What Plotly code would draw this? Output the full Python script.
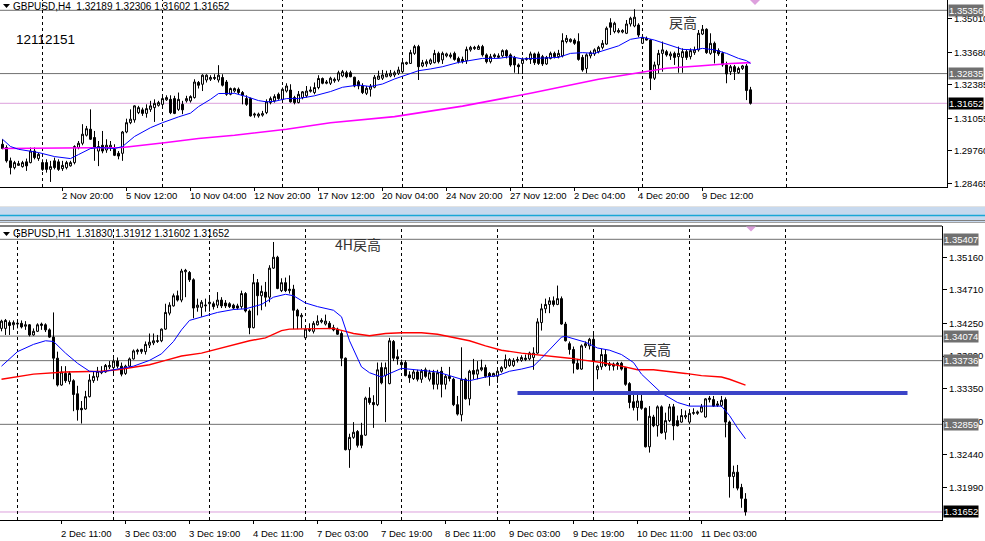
import plotly.graph_objects as go

W, H = 985, 541
def px(x): return x / W
def py(y): return 1 - y / H

# ---------------- GBPUSD H4 (top) ----------------
top_first_bar = -10
top_open = [1.3002,1.2989,1.2936,1.2909,1.2918,1.2913,1.2932,1.2929,1.2975,1.2945,
1.2929,1.2929,1.2902,1.2936,1.2932,1.2905,1.2909,1.2916,1.2929,1.2989,
1.3006,1.3038,1.3062,1.3029,1.2975,1.2998,1.2979,1.2989,1.2982,1.2966,
1.2966,1.3051,1.3088,1.3099,1.3128,1.3139,1.3125,1.3141,1.3148,1.3157,
1.3161,1.3179,1.3181,1.3184,1.3141,1.3161,1.3175,1.3175,1.3188,1.3248,
1.3241,1.3258,1.3261,1.3264,1.3258,1.3268,1.3250,1.3201,1.3214,1.3221,
1.3208,1.3184,1.3184,1.3118,1.3115,1.3118,1.3128,1.3168,1.3175,1.3201,
1.3181,1.3214,1.3218,1.3188,1.3168,1.3188,1.3195,1.3213,1.3208,1.3228,
1.3264,1.3245,1.3245,1.3255,1.3258,1.3274,1.3287,1.3287,1.3269,1.3251,
1.3234,1.3205,1.3221,1.3229,1.3261,1.3265,1.3271,1.3274,1.3278,1.3285,
1.3291,1.3322,1.3324,1.3364,1.3391,1.3314,1.3322,1.3324,1.3327,1.3364,
1.3338,1.3354,1.3351,1.3364,1.3344,1.3340,1.3335,1.3378,1.3383,1.3380,
1.3391,1.3358,1.3331,1.3351,1.3348,1.3354,1.3375,1.3358,1.3348,1.3318,
1.3324,1.3340,1.3340,1.3362,1.3362,1.3351,1.3322,1.3344,1.3364,1.3351,
1.3354,1.3411,1.3411,1.3417,1.3411,1.3348,1.3304,1.3354,1.3362,1.3371,
1.3388,1.3401,1.3486,1.3451,1.3449,1.3449,1.3444,1.3481,1.3473,1.3477,
1.3404,1.3424,1.3417,1.3265,1.3318,1.3364,1.3371,1.3354,1.3364,1.3351,
1.3348,1.3371,1.3351,1.3367,1.3378,1.3441,1.3460,1.3364,1.3404,1.3375,
1.3364,1.3318,1.3291,1.3311,1.3287,1.3304,1.3314,1.32189]
top_high = [1.3022,1.2998,1.2949,1.2936,1.2936,1.2936,1.2945,1.2989,1.2989,1.2968,
1.2942,1.2942,1.2936,1.2949,1.2942,1.2936,1.2936,1.2936,1.2998,1.3015,
1.3082,1.3075,1.3141,1.3055,1.3015,1.3055,1.3022,1.3015,1.3002,1.2975,
1.3055,1.3104,1.3141,1.3157,1.3155,1.3148,1.3161,1.3175,1.3181,1.3175,
1.3197,1.3197,1.3197,1.3195,1.3208,1.3175,1.3195,1.3197,1.3261,1.3254,
1.3281,1.3281,1.3277,1.3281,1.3317,1.3281,1.3258,1.3228,1.3228,1.3228,
1.3214,1.3197,1.3188,1.3128,1.3128,1.3135,1.3181,1.3192,1.3201,1.3208,
1.3228,1.3245,1.3241,1.3195,1.3214,1.3214,1.3234,1.3232,1.3248,1.3277,
1.3268,1.3258,1.3271,1.3268,1.3295,1.3298,1.3295,1.3295,1.3271,1.3258,
1.3245,1.3234,1.3242,1.3278,1.3295,1.3298,1.3295,1.3298,1.3295,1.3311,
1.3335,1.3331,1.3378,1.3398,1.3398,1.3338,1.3340,1.3344,1.3378,1.3371,
1.3371,1.3367,1.3367,1.3371,1.3351,1.3351,1.3391,1.3394,1.3394,1.3398,
1.3398,1.3364,1.3362,1.3364,1.3364,1.3380,1.3380,1.3364,1.3354,1.3324,
1.3348,1.3348,1.3371,1.3367,1.3371,1.3358,1.3354,1.3371,1.3371,1.3378,
1.3444,1.3437,1.3424,1.3424,1.3444,1.3358,1.3364,1.3375,1.3384,1.3394,
1.3417,1.3471,1.3504,1.3490,1.3464,1.3460,1.3497,1.3510,1.3540,1.3484,
1.3433,1.3431,1.3420,1.3331,1.3378,1.3411,1.3378,1.3371,1.3371,1.3391,
1.3384,1.3378,1.3384,1.3391,1.3457,1.3477,1.3464,1.3444,1.3411,1.3384,
1.3371,1.3331,1.3318,1.3318,1.3311,1.3318,1.3322,1.32306]
top_low = [1.2982,1.2929,1.2882,1.2902,1.2916,1.2909,1.2896,1.2926,1.2942,1.2936,
1.2896,1.2889,1.2852,1.2902,1.2896,1.2896,1.2902,1.2913,1.2922,1.2982,
1.2998,1.3033,1.3019,1.2936,1.2915,1.2966,1.2968,1.2975,1.2955,1.2942,
1.2936,1.3046,1.3082,1.3088,1.3122,1.3115,1.3108,1.3131,1.3091,1.3152,
1.3152,1.3175,1.3122,1.3122,1.3135,1.3122,1.3168,1.3168,1.3184,1.3224,
1.3214,1.3248,1.3254,1.3258,1.3248,1.3232,1.3195,1.3197,1.3208,1.3201,
1.3161,1.3155,1.3112,1.3108,1.3108,1.3112,1.3122,1.3161,1.3168,1.3179,
1.3179,1.3208,1.3168,1.3161,1.3165,1.3181,1.3188,1.3208,1.3201,1.3221,
1.3241,1.3241,1.3238,1.3247,1.3251,1.3269,1.3265,1.3269,1.3229,1.3221,
1.3202,1.3198,1.3192,1.3225,1.3258,1.3258,1.3269,1.3269,1.3269,1.3278,
1.3285,1.3318,1.3322,1.3358,1.3258,1.3309,1.3311,1.3318,1.3324,1.3324,
1.3322,1.3348,1.3344,1.3335,1.3324,1.3324,1.3322,1.3371,1.3378,1.3378,
1.3351,1.3324,1.3324,1.3344,1.3344,1.3348,1.3344,1.3311,1.3287,1.3282,
1.3282,1.3335,1.3322,1.3318,1.3318,1.3314,1.3318,1.3340,1.3344,1.3344,
1.3348,1.3404,1.3407,1.3398,1.3335,1.3291,1.3285,1.3344,1.3354,1.3364,
1.3380,1.3398,1.3437,1.3444,1.3444,1.3444,1.3441,1.3471,1.3468,1.3428,
1.3401,1.3415,1.3218,1.3258,1.3285,1.3291,1.3351,1.3338,1.3318,1.3287,
1.3287,1.3338,1.3340,1.3358,1.3371,1.3437,1.3362,1.3358,1.3324,1.3354,
1.3311,1.3245,1.3278,1.3258,1.3282,1.3298,1.3178,1.31602]
top_close = [1.2985,1.2936,1.2909,1.2929,1.2925,1.2929,1.2916,1.2975,1.2949,1.2962,
1.2902,1.2902,1.2913,1.2909,1.2902,1.2918,1.2929,1.2929,1.2993,1.3006,
1.3042,1.3064,1.3022,1.2989,1.2993,1.2975,1.2998,1.2998,1.2958,1.2955,
1.3051,1.3088,1.3102,1.3155,1.3148,1.3125,1.3144,1.3155,1.3165,1.3168,
1.3184,1.3188,1.3128,1.3125,1.3181,1.3139,1.3184,1.3192,1.3250,1.3237,
1.3277,1.3277,1.3268,1.3268,1.3277,1.3237,1.3201,1.3224,1.3224,1.3208,
1.3197,1.3161,1.3115,1.3122,1.3122,1.3124,1.3171,1.3184,1.3192,1.3184,
1.3221,1.3234,1.3171,1.3168,1.3201,1.3211,1.3214,1.3218,1.3228,1.3264,
1.3245,1.3250,1.3265,1.3261,1.3287,1.3291,1.3271,1.3271,1.3234,1.3234,
1.3208,1.3225,1.3234,1.3269,1.3274,1.3278,1.3282,1.3285,1.3287,1.3298,
1.3327,1.3327,1.3367,1.3391,1.3311,1.3327,1.3331,1.3338,1.3364,1.3331,
1.3364,1.3362,1.3358,1.3340,1.3331,1.3331,1.3380,1.3388,1.3388,1.3391,
1.3358,1.3331,1.3351,1.3358,1.3354,1.3375,1.3354,1.3318,1.3318,1.3311,
1.3340,1.3344,1.3362,1.3327,1.3324,1.3322,1.3348,1.3364,1.3351,1.3364,
1.3415,1.3424,1.3420,1.3404,1.3340,1.3298,1.3358,1.3367,1.3378,1.3388,
1.3404,1.3464,1.3468,1.3484,1.3455,1.3455,1.3481,1.3504,1.3508,1.3437,
1.3428,1.3417,1.3265,1.3318,1.3364,1.3378,1.3358,1.3362,1.3348,1.3364,
1.3371,1.3348,1.3375,1.3378,1.3444,1.3460,1.3367,1.3404,1.3367,1.3362,
1.3318,1.3282,1.3311,1.3291,1.3304,1.3314,1.3216,1.31652]

top_ma_fast_bar = [-10,-8,-6,-1,3,7,9,12,14,18,20,23,27,30,34,37,39,42,44,48,51,54,56,58,61,64,68,72,75,79,82,85,88,92,94,97,100,104,108,110,114,117,120,124,127,129,132,135,138,141,144,147,150,153,156,160,163,165,168,171,174,176,177]
top_ma_fast = [1.3022,1.2993,1.2982,1.2969,1.2953,1.2945,1.2961,1.2985,1.2989,1.2985,1.2993,1.3033,1.3068,1.3088,1.3111,1.3126,1.3152,1.3181,1.3204,1.3205,1.3192,1.3176,1.3171,1.3173,1.3184,1.3184,1.3195,1.3212,1.3229,1.3238,1.3232,1.3242,1.3262,1.3282,1.3295,1.3302,1.3311,1.3328,1.3340,1.3344,1.3344,1.3351,1.3342,1.3344,1.3344,1.3348,1.3364,1.3367,1.3364,1.3380,1.3394,1.3420,1.3428,1.3417,1.3402,1.3380,1.3378,1.3384,1.3378,1.3364,1.3344,1.3335,1.3324]
top_ma_slow_bar = [-10,20,31,39,48,56,61,72,88,105,122,139,147,152,156,164,172,177]
top_ma_slow = [1.2985,1.2989,1.3009,1.3025,1.3038,1.3051,1.3062,1.3088,1.3112,1.3154,1.3205,1.3261,1.3282,1.3293,1.3305,1.3314,1.3324,1.3327]

top_levels_gray = [1.35356, 1.32835]
top_level_pink = 1.31652
top_price_ticks = [1.35010, 1.33680, 1.32385, 1.31055, 1.29760, 1.28465]
top_week_bars = [0, 30, 60, 90, 120, 150, 186]
top_time_bars = [-11.25, 5, 21, 37, 53, 69, 85, 101, 117, 133, 149, 165]
top_time_labels = ["29 Oct 2020", "2 Nov 20:00", "5 Nov 12:00", "10 Nov 04:00", "12 Nov 20:00",
                   "17 Nov 12:00", "20 Nov 04:00", "24 Nov 20:00", "27 Nov 12:00", "2 Dec 04:00",
                   "4 Dec 20:00", "9 Dec 12:00"]

# ---------------- GBPUSD H1 (bottom) ----------------
bot_first_bar = -4
bot_open = [1.3418,1.3418,1.3426,1.3423,
1.3424,1.3425,1.3421,1.3423,1.3409,1.3414,1.3422,1.3423,1.3416,1.3406,
1.3377,1.3340,1.3356,1.3345,1.3346,1.3328,1.3308,1.3307,1.3324,1.3346,
1.3351,1.3357,1.3358,1.3365,1.3364,1.3373,1.3366,1.3356,1.3366,1.3376,
1.3386,1.3386,1.3386,1.3395,1.3398,1.3400,1.3401,1.3417,1.3439,1.3449,
1.3463,1.3457,1.3496,1.3495,1.3485,1.3447,1.3447,1.3449,1.3452,1.3452,
1.3450,1.3457,1.3453,1.3452,1.3450,1.3449,1.3448,1.3466,1.3442,1.3419,
1.3481,1.3463,1.3468,1.3461,1.3501,1.3516,1.3470,1.3481,1.3470,1.3472,
1.3443,1.3434,1.3405,1.3415,1.3414,1.3423,1.3427,1.3424,1.3425,1.3419,
1.3417,1.3411,1.3377,1.3251,1.3268,1.3276,1.3271,1.3271,1.3322,1.3316,
1.3313,1.3364,1.3353,1.3342,1.3400,1.3379,1.3371,1.3371,1.3354,1.3349,
1.3358,1.3348,1.3361,1.3348,1.3357,1.3341,1.3359,1.3341,1.3352,1.3348,
1.3313,1.3299,1.3348,1.3321,1.3360,1.3355,1.3361,1.3364,1.3356,1.3352,
1.3352,1.3359,1.3364,1.3367,1.3367,1.3374,1.3374,1.3375,1.3376,1.3378,
1.3384,1.3426,1.3445,1.3451,1.3456,1.3451,1.3459,1.3424,1.3397,1.3389,
1.3370,1.3362,1.3394,1.3394,1.3403,1.3361,1.3365,1.3382,1.3367,1.3369,
1.3368,1.3370,1.3364,1.3342,1.3317,1.3309,1.3318,1.3308,1.3255,1.3296,
1.3284,1.3310,1.3275,1.3291,1.3310,1.3291,1.3289,1.3296,1.3289,1.3301,
1.3301,1.3303,1.3296,1.3320,1.3320,1.3312,1.3312,1.3320,1.3289,1.3214,
1.3220,1.3199,1.31830]
bot_high = [1.3430,1.3431,1.3429,1.3429,
1.3428,1.3429,1.3428,1.3424,1.3418,1.3425,1.3426,1.3425,1.3418,1.3440,
1.3386,1.3366,1.3366,1.3359,1.3348,1.3339,1.3318,1.3332,1.3355,1.3359,
1.3365,1.3366,1.3369,1.3373,1.3377,1.3378,1.3371,1.3368,1.3378,1.3389,
1.3390,1.3390,1.3400,1.3411,1.3411,1.3409,1.3418,1.3452,1.3454,1.3466,
1.3470,1.3500,1.3500,1.3497,1.3487,1.3459,1.3457,1.3459,1.3460,1.3455,
1.3468,1.3461,1.3457,1.3454,1.3452,1.3452,1.3470,1.3468,1.3444,1.3493,
1.3486,1.3477,1.3482,1.3505,1.3537,1.3518,1.3487,1.3488,1.3491,1.3478,
1.3445,1.3439,1.3418,1.3425,1.3428,1.3436,1.3432,1.3437,1.3428,1.3423,
1.3419,1.3414,1.3378,1.3273,1.3289,1.3278,1.3288,1.3324,1.3337,1.3326,
1.3371,1.3371,1.3371,1.3405,1.3402,1.3389,1.3375,1.3374,1.3359,1.3361,
1.3361,1.3362,1.3364,1.3361,1.3361,1.3361,1.3365,1.3355,1.3365,1.3350,
1.3325,1.3392,1.3350,1.3361,1.3376,1.3373,1.3375,1.3368,1.3358,1.3357,
1.3361,1.3366,1.3382,1.3377,1.3377,1.3379,1.3381,1.3382,1.3386,1.3392,
1.3432,1.3452,1.3459,1.3461,1.3462,1.3477,1.3462,1.3427,1.3400,1.3393,
1.3376,1.3396,1.3400,1.3405,1.3411,1.3368,1.3390,1.3389,1.3372,1.3371,
1.3372,1.3372,1.3365,1.3344,1.3332,1.3328,1.3328,1.3309,1.3311,1.3299,
1.3312,1.3312,1.3302,1.3314,1.3314,1.3298,1.3307,1.3305,1.3303,1.3308,
1.3305,1.3314,1.3322,1.3325,1.3325,1.3318,1.3325,1.3323,1.3291,1.3229,
1.3230,1.3204,1.31912]
bot_low = [1.3414,1.3409,1.3409,1.3416,
1.3418,1.3418,1.3416,1.3407,1.3408,1.3413,1.3416,1.3413,1.3405,1.3348,
1.3338,1.3339,1.3343,1.3341,1.3304,1.3291,1.3287,1.3306,1.3323,1.3343,
1.3346,1.3355,1.3357,1.3362,1.3355,1.3363,1.3352,1.3354,1.3364,1.3375,
1.3382,1.3383,1.3382,1.3391,1.3395,1.3398,1.3399,1.3416,1.3436,1.3448,
1.3455,1.3454,1.3461,1.3482,1.3432,1.3441,1.3434,1.3441,1.3441,1.3444,
1.3446,1.3446,1.3446,1.3446,1.3444,1.3444,1.3445,1.3440,1.3410,1.3418,
1.3436,1.3443,1.3448,1.3454,1.3500,1.3472,1.3468,1.3468,1.3466,1.3417,
1.3417,1.3418,1.3404,1.3413,1.3411,1.3422,1.3425,1.3422,1.3417,1.3414,
1.3409,1.3366,1.3250,1.3226,1.3266,1.3254,1.3253,1.3270,1.3313,1.3281,
1.3311,1.3341,1.3289,1.3341,1.3373,1.3368,1.3361,1.3352,1.3343,1.3347,
1.3345,1.3343,1.3350,1.3345,1.3334,1.3334,1.3323,1.3334,1.3345,1.3311,
1.3298,1.3290,1.3320,1.3312,1.3348,1.3348,1.3359,1.3350,1.3339,1.3351,
1.3343,1.3357,1.3362,1.3365,1.3365,1.3371,1.3372,1.3373,1.3374,1.3361,
1.3383,1.3415,1.3439,1.3439,1.3448,1.3450,1.3423,1.3400,1.3382,1.3356,
1.3361,1.3361,1.3391,1.3389,1.3332,1.3348,1.3361,1.3365,1.3360,1.3360,
1.3361,1.3360,1.3339,1.3308,1.3305,1.3291,1.3306,1.3254,1.3247,1.3282,
1.3269,1.3273,1.3265,1.3289,1.3264,1.3283,1.3288,1.3293,1.3287,1.3299,
1.3299,1.3302,1.3295,1.3316,1.3310,1.3310,1.3310,1.3268,1.3185,1.3198,
1.3195,1.3171,1.31602]
bot_close = [1.3428,1.3429,1.3422,1.3426,
1.3425,1.3420,1.3423,1.3409,1.3414,1.3423,1.3424,1.3416,1.3406,1.3377,
1.3340,1.3358,1.3346,1.3356,1.3327,1.3306,1.3306,1.3324,1.3347,1.3352,
1.3359,1.3359,1.3367,1.3367,1.3373,1.3366,1.3355,1.3366,1.3376,1.3387,
1.3388,1.3389,1.3396,1.3399,1.3401,1.3401,1.3417,1.3440,1.3450,1.3463,
1.3457,1.3497,1.3498,1.3485,1.3446,1.3450,1.3454,1.3450,1.3454,1.3448,
1.3457,1.3449,1.3449,1.3448,1.3446,1.3446,1.3466,1.3442,1.3419,1.3481,
1.3463,1.3469,1.3461,1.3501,1.3516,1.3473,1.3481,1.3470,1.3472,1.3443,
1.3435,1.3436,1.3417,1.3417,1.3425,1.3428,1.3429,1.3428,1.3419,1.3416,
1.3410,1.3377,1.3251,1.3268,1.3275,1.3257,1.3257,1.3322,1.3316,1.3313,
1.3361,1.3343,1.3364,1.3401,1.3377,1.3376,1.3368,1.3353,1.3350,1.3358,
1.3348,1.3359,1.3352,1.3357,1.3341,1.3357,1.3341,1.3352,1.3349,1.3313,
1.3300,1.3348,1.3321,1.3359,1.3355,1.3361,1.3364,1.3352,1.3352,1.3356,
1.3359,1.3364,1.3375,1.3375,1.3374,1.3375,1.3378,1.3377,1.3384,1.3384,
1.3427,1.3445,1.3451,1.3456,1.3451,1.3459,1.3424,1.3401,1.3389,1.3370,
1.3362,1.3394,1.3397,1.3403,1.3373,1.3366,1.3382,1.3367,1.3369,1.3366,
1.3370,1.3362,1.3341,1.3316,1.3309,1.3318,1.3308,1.3255,1.3297,1.3284,
1.3310,1.3274,1.3291,1.3310,1.3284,1.3284,1.3298,1.3298,1.3301,1.3302,
1.3303,1.3310,1.3321,1.3322,1.3311,1.3314,1.3319,1.3289,1.3214,1.3220,
1.3198,1.3184,1.31652]

bot_ma_fast_bar = [-4,0,4,7,9,12,15,18,21,25,29,33,36,39,41,43,46,50,54,57,61,64,67,69,72,75,79,81,83,86,88,91,96,101,105,108,111,113,117,120,123,126,129,131,133,136,137,140,142,145,148,151,154,156,159,161,165,168,172,176,178,180,182]
bot_ma_fast = [1.3366,1.3386,1.3396,1.3401,1.3400,1.3384,1.3370,1.3359,1.3358,1.3362,1.3366,1.3374,1.3383,1.3400,1.3416,1.3429,1.3434,1.3440,1.3444,1.3445,1.3451,1.3461,1.3465,1.3463,1.3453,1.3448,1.3443,1.3434,1.3401,1.3365,1.3357,1.3351,1.3363,1.3360,1.3358,1.3353,1.3348,1.3346,1.3351,1.3353,1.3359,1.3362,1.3366,1.3377,1.3389,1.3406,1.3407,1.3402,1.3399,1.3391,1.3388,1.3382,1.3371,1.3355,1.3340,1.3329,1.3316,1.3311,1.3311,1.3311,1.3298,1.3281,1.3266]
bot_ma_slow_bar = [-4,4,12,21,25,29,33,37,41,46,50,54,58,62,66,68,75,79,82,84,88,92,96,101,105,109,113,117,121,126,130,134,138,142,146,151,155,159,163,167,171,176,178,182]
bot_ma_slow = [1.3348,1.3355,1.3358,1.3359,1.3361,1.3364,1.3368,1.3374,1.3380,1.3384,1.3390,1.3395,1.3401,1.3405,1.3415,1.3417,1.3417,1.3418,1.3414,1.3411,1.3408,1.3411,1.3412,1.3412,1.3410,1.3406,1.3401,1.3394,1.3388,1.3384,1.3382,1.3380,1.3377,1.3374,1.3371,1.3366,1.3361,1.3361,1.3359,1.3356,1.3353,1.3351,1.3348,1.3340]

bot_levels_gray = [1.35407, 1.34074, 1.33736, 1.32859]
bot_level_pink = 1.31652
bot_blue_level = 1.3329
bot_blue_level_bars = [125, 222.5]
bot_price_ticks = [1.35160, 1.34710, 1.34250, 1.33800, 1.33350, 1.32900, 1.32440, 1.31990, 1.31530]
bot_day_bars = [0, 24, 48, 72, 96, 120, 144, 168, 192]
bot_time_bars = [-5.5, 11, 27, 43, 59, 75, 91, 107, 123, 139, 155, 171]
bot_time_labels = ["1 Dec 2020", "2 Dec 11:00", "3 Dec 03:00", "3 Dec 19:00", "4 Dec 11:00",
                   "7 Dec 03:00", "7 Dec 19:00", "8 Dec 11:00", "9 Dec 03:00", "9 Dec 19:00",
                   "10 Dec 11:00", "11 Dec 03:00"]

for a in (top_open, top_high, top_low):
    assert len(a) == len(top_close), (len(a), len(top_close))
for a in (bot_open, bot_high, bot_low):
    assert len(a) == len(bot_close), (len(a), len(bot_close))
assert len(top_ma_fast_bar) == len(top_ma_fast)
assert len(top_ma_slow_bar) == len(top_ma_slow)
assert len(bot_ma_fast_bar) == len(bot_ma_fast)
assert len(bot_ma_slow_bar) == len(bot_ma_slow)

top_bars = list(range(top_first_bar, top_first_bar + len(top_close)))
bot_bars = list(range(bot_first_bar, bot_first_bar + len(bot_close)))

FONT = "Liberation Sans, Arial, sans-serif"
CJK = "Noto Sans CJK JP, sans-serif"

fig = go.Figure()

def candles(x, o, h, l, c, xa, ya):
    return go.Candlestick(
        x=x, open=o, high=h, low=l, close=c, xaxis=xa, yaxis=ya,
        increasing=dict(line=dict(color="black", width=1), fillcolor="white"),
        decreasing=dict(line=dict(color="black", width=1), fillcolor="black"),
        whiskerwidth=0, hoverinfo="skip", showlegend=False)

fig.add_trace(go.Scatter(x=top_ma_slow_bar, y=top_ma_slow, mode="lines",
                         line=dict(color="#FF00FF", width=1.6), xaxis="x", yaxis="y", hoverinfo="skip"))
fig.add_trace(go.Scatter(x=top_ma_fast_bar, y=top_ma_fast, mode="lines",
                         line=dict(color="#0000FF", width=1), xaxis="x", yaxis="y", hoverinfo="skip"))
fig.add_trace(candles(top_bars, top_open, top_high, top_low, top_close, "x", "y"))

fig.add_trace(go.Scatter(x=bot_ma_slow_bar, y=bot_ma_slow, mode="lines",
                         line=dict(color="#FF0000", width=1.4), xaxis="x2", yaxis="y2", hoverinfo="skip"))
fig.add_trace(go.Scatter(x=bot_ma_fast_bar, y=bot_ma_fast, mode="lines",
                         line=dict(color="#0000FF", width=1), xaxis="x2", yaxis="y2", hoverinfo="skip"))
fig.add_trace(candles(bot_bars, bot_open, bot_high, bot_low, bot_close, "x2", "y2"))

shapes = []
for v in top_levels_gray:
    shapes.append(dict(type="line", xref="x domain", yref="y", x0=0, x1=1, y0=v, y1=v,
                       line=dict(color="#707070", width=1), layer="below"))
shapes.append(dict(type="line", xref="x domain", yref="y", x0=0, x1=1, y0=top_level_pink, y1=top_level_pink,
                   line=dict(color="#DDA0DD", width=1), layer="below"))
for v in bot_levels_gray:
    shapes.append(dict(type="line", xref="x2 domain", yref="y2", x0=0, x1=1, y0=v, y1=v,
                       line=dict(color="#707070", width=1), layer="below"))
shapes.append(dict(type="line", xref="x2 domain", yref="y2", x0=0, x1=1, y0=bot_level_pink, y1=bot_level_pink,
                   line=dict(color="#DDA0DD", width=1), layer="below"))
shapes.append(dict(type="line", xref="x2", yref="y2", x0=bot_blue_level_bars[0], x1=bot_blue_level_bars[1],
                   y0=bot_blue_level, y1=bot_blue_level, line=dict(color="#3B44C8", width=4)))
for b in top_week_bars:
    shapes.append(dict(type="line", xref="x", yref="y domain", x0=b, x1=b, y0=0, y1=1,
                       line=dict(color="black", width=1, dash="3px,3px"), layer="below"))
for b in bot_day_bars:
    shapes.append(dict(type="line", xref="x2", yref="y2 domain", x0=b, x1=b, y0=0, y1=1,
                       line=dict(color="black", width=1, dash="3px,3px"), layer="below"))
shapes.append(dict(type="line", xref="paper", yref="paper", x0=0, x1=px(942), y0=py(226), y1=py(226),
                   line=dict(color="black", width=1)))
shapes.append(dict(type="rect", xref="paper", yref="paper", x0=0, x1=1, y0=py(222), y1=py(207),
                   fillcolor="#C7D9EE", line=dict(width=0)))
shapes.append(dict(type="line", xref="paper", yref="paper", x0=0, x1=1, y0=py(206.5), y1=py(206.5),
                   line=dict(color="#E2E2E2", width=1)))
shapes.append(dict(type="line", xref="paper", yref="paper", x0=0, x1=1, y0=py(215.5), y1=py(215.5),
                   line=dict(color="#19A7D6", width=1.5)))
shapes.append(dict(type="line", xref="paper", yref="paper", x0=0, x1=1, y0=py(220.5), y1=py(220.5),
                   line=dict(color="#808080", width=1)))
shapes.append(dict(type="line", xref="paper", yref="paper", x0=0, x1=1, y0=py(222.5), y1=py(222.5),
                   line=dict(color="#A0A0A0", width=1)))
def tri(x0, y0, w, h, color):
    return dict(type="path", xref="paper", yref="paper",
                path=f"M {px(x0)},{py(y0)} L {px(x0 + w)},{py(y0)} L {px(x0 + w / 2)},{py(y0 + h)} Z",
                fillcolor=color, line=dict(color=color, width=0))
shapes.append(tri(3, 4, 7, 4, "black"))
shapes.append(tri(3, 232, 7, 4, "black"))
shapes.append(tri(750, 0, 10, 5, "#DDA0DD"))
shapes.append(tri(746, 226.5, 10, 5, "#DDA0DD"))

annotations = []
def txt(text, x, y, size=9.5, color="black", font=FONT, xanchor="left", **kw):
    annotations.append(dict(text=text, x=px(x), y=py(y), xref="paper", yref="paper", showarrow=False,
                            xanchor=xanchor, yanchor="middle", font=dict(family=font, size=size, color=color),
                            **kw))

txt("GBPUSD,H4  1.32189 1.32306 1.31602 1.31652", 11, 6, size=10)
txt("GBPUSD,H1  1.31830 1.31912 1.31602 1.31652", 11, 234, size=10)
txt("12112151", 14, 39, size=13.5)
txt("戻高", 667, 22, size=14, color="#333333", font=CJK)
txt("4H戻高", 333, 244, size=14, color="#333333", font=CJK)
txt("戻高", 641, 349, size=14, color="#333333", font=CJK)

for b, lab in zip(top_time_bars, top_time_labels):
    annotations.append(dict(text=lab, x=b, y=py(196), xref="x", yref="paper", showarrow=False,
                            xanchor="left", yanchor="middle", xshift=-3,
                            font=dict(family=FONT, size=9.5, color="black")))
for b, lab in zip(bot_time_bars, bot_time_labels):
    annotations.append(dict(text=lab, x=b, y=py(533), xref="x2", yref="paper", showarrow=False,
                            xanchor="left", yanchor="middle", xshift=-3,
                            font=dict(family=FONT, size=9.5, color="black")))

def price_box(v, yref, x, bg):
    annotations.append(dict(text=f"{v:.5f}", x=px(x), y=v, xref="paper", yref=yref, showarrow=False,
                            xanchor="left", yanchor="middle", bgcolor=bg, borderpad=0,
                            font=dict(family=FONT, size=9.5, color="white")))

for v in top_levels_gray:
    price_box(v, "y", 948, "#707070")
price_box(top_level_pink, "y", 948, "black")
for v in bot_levels_gray:
    price_box(v, "y2", 943, "#707070")
price_box(bot_level_pink, "y2", 943, "black")

top_dom = [py(187), 1]
bot_dom = [py(520), py(226)]
top_yr = [1.35356 - (187 - 10.3) * 0.0003983, 1.35356 + 10.3 * 0.0003983]
bot_yr = [1.35407 - (520 - 239.3) * 0.0001377, 1.35407 + (239.3 - 226) * 0.0001377]

axis_common = dict(showgrid=False, zeroline=False, showline=True, linecolor="black", linewidth=1,
                   ticks="outside", tickcolor="black", tickwidth=1, fixedrange=True, automargin=False)

fig.update_layout(
    width=W, height=H, margin=dict(l=0, r=0, t=0, b=0, autoexpand=False),
    paper_bgcolor="white", plot_bgcolor="white", showlegend=False,
    xaxis=dict(domain=[0, px(947)], range=[-10.625, 226.125], anchor="y", tickmode="array",
               tickvals=top_time_bars[1:], ticklen=3,
               showticklabels=False, rangeslider=dict(visible=False), **axis_common),
    yaxis=dict(domain=top_dom, range=top_yr, anchor="x", side="right", tickmode="array",
               tickvals=top_price_ticks, ticktext=[f"{v:.5f}" for v in top_price_ticks], ticklen=4,
               tickfont=dict(family=FONT, size=9.5, color="black"), **axis_common),
    xaxis2=dict(domain=[0, px(942)], range=[-4.375, 231.125], anchor="y2", tickmode="array",
                tickvals=bot_time_bars[1:], ticklen=3,
                showticklabels=False, rangeslider=dict(visible=False), **axis_common),
    yaxis2=dict(domain=bot_dom, range=bot_yr, anchor="x2", side="right", tickmode="array",
                tickvals=bot_price_ticks, ticktext=[f"{v:.5f}" for v in bot_price_ticks], ticklen=4,
                tickfont=dict(family=FONT, size=9.5, color="black"), **axis_common),
    shapes=shapes, annotations=annotations,
)

fig.write_html("out.html", config={"displayModeBar": False},
               post_script="document.body.style.margin='0';document.body.style.overflow='hidden';")
